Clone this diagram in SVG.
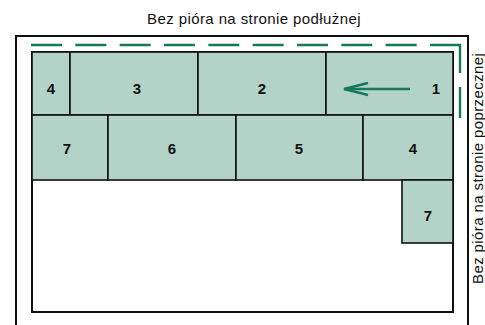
<svg xmlns="http://www.w3.org/2000/svg" width="485" height="325" viewBox="0 0 485 325">
<style>
.cell{fill:#b3d3c8;stroke:#111;stroke-width:1.6}
.num{font-family:"Liberation Sans",Arial,sans-serif;font-weight:bold;font-size:15px;fill:#111;text-anchor:middle}
.cap{font-family:"Liberation Sans",Arial,sans-serif;font-size:15px;fill:#111;letter-spacing:0.4px}
.green{stroke:#17795c;fill:none;stroke-width:2.4}
</style>
<defs>
<marker id="ah" markerWidth="28" markerHeight="16" refX="25" refY="8" orient="auto" markerUnits="userSpaceOnUse">
<path d="M1,2 L25,8 L1,14" fill="none" stroke="#17795c" stroke-width="2.4"/>
</marker>
</defs>
<rect width="485" height="325" fill="#fff"/>
<text class="cap" x="254" y="24" text-anchor="middle">Bez pióra na stronie podłużnej</text>
<text class="cap" transform="translate(483,284) rotate(-90)">Bez pióra na stronie poprzecznej</text>
<g id="frame">
<path d="M16,325 V36 H468 V325" fill="none" stroke="#111" stroke-width="2"/>
<rect x="32" y="52" width="421" height="260" fill="#fff" stroke="#111" stroke-width="2"/>
</g>
<g id="row1">
<g id="c4a"><rect class="cell" x="32" y="52" width="38" height="63"/><text class="num" x="51" y="94">4</text></g>
<g id="c3"><rect class="cell" x="70" y="52" width="128" height="63"/><text class="num" x="137" y="94">3</text></g>
<g id="c2"><rect class="cell" x="198" y="52" width="128" height="63"/><text class="num" x="262" y="94">2</text></g>
<g id="c1"><rect class="cell" x="326" y="52" width="127" height="63"/><text class="num" x="436" y="94">1</text></g>
</g>
<g id="row2">
<g id="c7a"><rect class="cell" x="32" y="115" width="76" height="65"/><text class="num" x="67" y="154">7</text></g>
<g id="c6"><rect class="cell" x="108" y="115" width="128" height="65"/><text class="num" x="172" y="154">6</text></g>
<g id="c5"><rect class="cell" x="236" y="115" width="127" height="65"/><text class="num" x="299" y="154">5</text></g>
<g id="c4b"><rect class="cell" x="363" y="115" width="90" height="65"/><text class="num" x="413" y="154">4</text></g>
</g>
<g id="c7b"><rect class="cell" x="402" y="180" width="51" height="63"/><text class="num" x="428" y="221">7</text></g>
<g id="connectors">
<path class="green" d="M31,45 H430" stroke-dasharray="31 13.33"/>
<path class="green" d="M430,45 H460 V73 M460,87 V118"/>
<line class="green" x1="410" y1="89" x2="344" y2="89" marker-end="url(#ah)"/>
</g>
</svg>
